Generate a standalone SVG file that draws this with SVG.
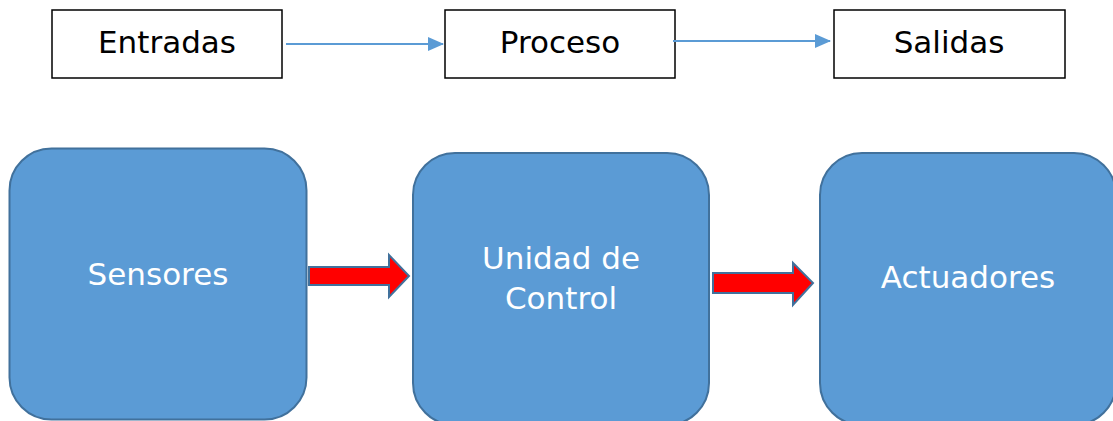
<svg xmlns="http://www.w3.org/2000/svg" width="1113" height="421" viewBox="0 0 1113 421">
<style>
.box{fill:#fff;stroke:#000;stroke-width:1.5}
.lbl{font-family:"DejaVu Sans",Verdana,sans-serif;font-size:31px;text-anchor:middle;fill:#000}
.blk{fill:#5B9BD5;stroke:#41719C;stroke-width:2}
.wl{font-family:"DejaVu Sans",Verdana,sans-serif;font-size:31px;text-anchor:middle;fill:#fff}
.con{stroke:#5B9BD5;stroke-width:2;fill:none;marker-end:url(#ah)}
.red{fill:#FF0000;stroke:#41719C;stroke-width:2;stroke-linejoin:miter}
</style>
<defs>
<marker id="ah" markerWidth="8" markerHeight="7" refX="7.5" refY="3.5" orient="auto" markerUnits="strokeWidth">
<path d="M0,0 L8,3.5 L0,7 z" fill="#5B9BD5"/>
</marker>
</defs>
<g id="entradas"><rect class="box" x="52" y="10" width="230" height="68"/><text class="lbl" x="167" y="53">Entradas</text></g>
<g id="proceso"><rect class="box" x="445" y="10" width="230" height="68"/><text class="lbl" x="560" y="53">Proceso</text></g>
<g id="salidas"><rect class="box" x="834" y="10" width="231" height="68"/><text class="lbl" x="949" y="53">Salidas</text></g>
<g id="sensores"><rect class="blk" x="9.5" y="148.5" width="297" height="271" rx="42" ry="42"/><text class="wl" x="158" y="285">Sensores</text></g>
<g id="unidad"><rect class="blk" x="413" y="153" width="296" height="272" rx="42" ry="42"/><text class="wl" x="561" y="269">Unidad de</text><text class="wl" x="561" y="309">Control</text></g>
<g id="actuadores"><rect class="blk" x="820" y="153" width="296" height="272" rx="42" ry="42"/><text class="wl" x="968" y="288">Actuadores</text></g>
<g id="connectors">
<line class="con" x1="286" y1="44" x2="443" y2="44"/>
<line class="con" x1="673" y1="41" x2="830" y2="41"/>
<path class="red" d="M309,267 L389,267 L389,255 L409,276 L389,297 L389,285 L309,285 Z"/>
<path class="red" d="M713,273 L793,273 L793,263 L813,283 L793,305 L793,293 L713,293 Z"/>
</g>
</svg>
